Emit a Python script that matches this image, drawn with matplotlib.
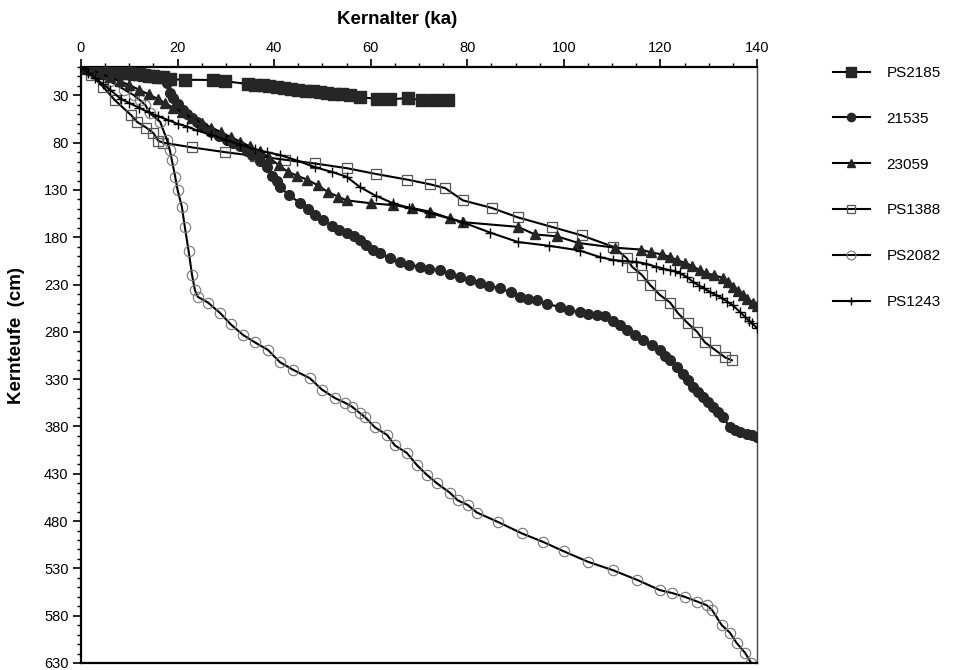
import matplotlib
matplotlib.use('Agg')
import matplotlib.pyplot as plt
from matplotlib.ticker import MultipleLocator, FixedLocator

plt.rcParams['font.family'] = ['Liberation Sans', 'DejaVu Sans']

# ---------------- data (age in ka, depth in cm) ----------------
ps2185_age = [0, 1, 2, 3, 4, 5, 6, 7, 8, 9, 10, 11, 12, 13, 14, 15, 16, 17,
              18.5, 21.5, 27.3, 29.8, 34.6, 36, 37.7,
              39, 40.5, 42, 43.5, 45, 46.5, 48, 49.5, 51, 52.5, 54, 55.7,
              57.8, 61.3, 64, 67.7, 70.6, 73.3, 76]
ps2185_depth = [0, 0.7, 1.3, 2, 2.6, 3.3, 3.9, 4.6, 5.2, 5.9, 6.5, 7.2, 7.8, 8.5, 9.1, 9.8, 10.4, 11,
                13, 13.5, 13.7, 15, 18, 18.5, 19,
                20, 21, 22, 23, 24, 25, 25.5, 26.5, 27.5, 28.5, 29, 29.6,
                32, 33.5, 34, 33, 35, 35, 35]

s21535_age = [0, 1, 2, 3, 4, 5, 6, 7, 8, 9, 10, 11, 12, 13, 14, 15, 16, 17,
              17.8, 18.4, 19, 20, 21.1, 22, 23, 24, 25.3, 27,
              28.5, 30.2, 31.5, 33, 34.4, 35.5, 37, 38.5, 39.5, 40.5,
              41.2, 43, 45.4, 47, 48.5, 50.1, 52, 53.5, 55, 56.5,
              57.8, 59, 60.5, 62, 64, 66, 68, 70.2, 72, 74.3,
              76.5, 78.5, 80.5, 82.6, 84.5, 86.8, 89, 90.9, 92.5, 94.4,
              96.5, 99.2, 101, 103.3, 105, 106.9, 108.5,
              110.2, 111.7, 113.1, 114.7, 116.4, 118.2, 119.9, 121, 122, 123.4,
              124.7, 125.7, 126.7, 127.8, 128.8, 129.9, 130.9, 132, 133, 134.4,
              135.5, 136.5, 138, 139, 140]
s21535_depth = [0, 0.5, 1, 1.5, 2, 2.5, 3, 3.5, 4, 5, 5.5, 6, 7, 7.5, 8, 9, 10, 12,
                17, 27, 33, 39, 45, 50, 54, 58, 63, 69,
                73, 77, 80, 84, 89, 93, 99, 106, 115, 120,
                127, 135, 144, 150, 156, 162, 168, 172, 175, 179,
                183, 188, 193, 197, 202, 206, 209, 211, 213, 215,
                219, 222, 225, 228, 231, 234, 238, 243, 245, 246,
                250, 254, 257, 259, 261, 262, 263,
                268, 273, 278, 283, 289, 294, 299, 305, 310, 317,
                324, 331, 338, 344, 349, 354, 359, 365, 370, 381,
                384, 386, 388, 389, 391]

s23059_age = [0, 2, 4, 6, 8, 10, 12, 14, 16,
              17.4, 19, 21, 23, 25, 27, 29, 31, 33, 35, 37, 39, 41,
              42.9, 44.8, 46.8, 49, 51.1, 53.2, 55,
              60, 64.6, 68.5, 72.3, 76.4, 79.1,
              90.5, 94, 98.6, 103, 110.6,
              116, 118, 120.3, 122, 123.4, 125, 126.5, 128.2, 129.5, 131, 133, 134, 135, 136, 137, 138, 139.2, 140]
s23059_depth = [0, 3, 7, 11, 15, 19, 24, 29, 34,
                38, 43, 48, 54, 59, 64, 69, 74, 79, 84, 89, 96, 104,
                111, 115, 119, 125, 132, 137, 141,
                144, 146, 149, 153, 160, 164,
                169, 177, 179, 186, 191,
                193, 196, 198, 201, 204, 207, 210, 215, 218, 220, 223, 227, 233, 237, 241, 245, 249, 253]

ps1388_age = [0, 2, 4.6, 7, 10.4, 11.6, 13.5, 15, 16, 17,
              23, 29.8, 36, 42.2, 48.5, 55.1, 61, 67.5, 72.3, 75.4,
              79.1, 85.1, 90.5, 97.5, 103.7, 110.2, 113, 114.1, 116.2, 117.8,
              119.9, 122, 123.6, 125.7, 127.6, 129.2, 131.3, 133.4, 134.8]
ps1388_depth = [0, 8, 21, 35, 51, 58, 64, 70, 78, 80,
                85, 90, 94, 98, 102, 107, 113, 119, 124, 128,
                141, 149, 159, 169, 178, 190, 202, 211, 220, 230,
                241, 249, 260, 271, 280, 291, 299, 307, 310]

ps2082_age = [0, 3, 6, 9, 11, 12.2, 13.3, 14.3, 16.4, 17.8,
              18.4, 18.8, 19.5, 20, 20.9, 21.5, 22.3, 23, 23.6, 24.2,
              26.3, 28.8, 31, 33.5, 36, 38.7, 41.2, 43.9, 47.4, 49.9,
              52.6, 54.7, 56.1, 57.8, 58.8, 60.9, 63.4, 65, 67.5, 69.6,
              71.6, 73.7, 76.4, 78, 80.1, 82, 86.4, 91.3, 95.7, 100,
              105, 110.2, 115.1, 119.9, 122.4, 125, 127.6, 129.6, 130.7, 132.7,
              134.4, 135.8, 137.5, 138.8]
ps2082_depth = [0, 7, 15, 24, 30, 35, 40, 49, 58, 77,
                88, 98, 116, 130, 148, 169, 195, 220, 236, 243,
                249, 260, 272, 283, 291, 299, 312, 320, 329, 341,
                350, 355, 359, 366, 370, 381, 389, 400, 408, 421,
                431, 440, 450, 458, 463, 471, 481, 493, 502, 512,
                523, 532, 542, 553, 556, 560, 565, 569, 574, 590,
                598, 609, 619, 630]

ps1243_age = [0, 1.5, 3, 4.5, 6, 8.3, 10, 12, 14, 16,
              18, 20, 22, 24, 27, 30, 33, 36, 38.5, 41.2,
              44.8, 48.5, 52, 55, 57.8, 61, 64.6, 68, 72, 79,
              84.7, 90.5, 97, 103.3, 107.5, 110.2, 112, 115, 117, 119,
              120.5, 122, 123, 124, 125.5, 126.7, 128, 129, 130.3, 131.5,
              132.7, 133.8, 135, 136.5, 137.5, 138.3, 139, 140]
ps1243_depth = [0, 6, 12, 18, 24, 34, 38, 43, 48, 52,
                56, 60, 63, 67, 72, 77, 82, 87, 90, 93,
                99, 106, 111, 116, 127, 136, 144, 149, 154, 164,
                175, 185, 189, 194, 201, 204, 205, 206, 208, 211,
                213, 215, 216, 218, 222, 227, 231, 234, 238, 241,
                244, 248, 252, 259, 264, 268, 271, 276]

x_ticks = [0, 20, 40, 60, 80, 100, 120, 140]
y_ticks = [30, 80, 130, 180, 230, 280, 330, 380, 430, 480, 530, 580, 630]

# ---------------- figure ----------------
W, H = 954, 670
fig = plt.figure(figsize=(W / 100, H / 100), dpi=100)
ax = fig.add_axes([81 / W, 1 - 663 / H, (757 - 81) / W, (663 - 67) / H])

dark = '#262626'
ax.plot(ps2185_age, ps2185_depth, color='black', lw=1.5, marker='s', ms=8,
        mfc=dark, mec=dark, label='PS2185', zorder=3)
ax.plot(s21535_age, s21535_depth, color='black', lw=1.5, marker='o', ms=7,
        mfc=dark, mec=dark, label='21535', zorder=3)
ax.plot(s23059_age, s23059_depth, color='black', lw=1.5, marker='^', ms=7,
        mfc=dark, mec=dark, label='23059', zorder=3)
ax.plot(ps1388_age, ps1388_depth, color='black', lw=1.5, marker='s', ms=7.5,
        mfc='none', mec='#555555', mew=0.9, label='PS1388', zorder=2)
ax.plot(ps2082_age, ps2082_depth, color='black', lw=1.5, marker='o', ms=7.5,
        mfc='none', mec='#777777', mew=0.8, label='PS2082', zorder=2)
ax.plot(ps1243_age, ps1243_depth, color='black', lw=1.5, marker='+', ms=7,
        mec='black', mew=1.0, label='PS1243', zorder=3)

ax.set_xlim(0, 140)
ax.set_ylim(630, 0)

ax.xaxis.tick_top()
ax.xaxis.set_major_locator(FixedLocator(x_ticks))
ax.xaxis.set_minor_locator(MultipleLocator(5))
ax.yaxis.set_major_locator(FixedLocator(y_ticks))
ax.yaxis.set_minor_locator(MultipleLocator(10))
ax.tick_params(axis='both', which='major', direction='out', length=6, width=1.2,
               labelsize=10.5, pad=3)
ax.tick_params(axis='both', which='minor', direction='out', length=3, width=1.0)
ax.tick_params(axis='x', which='both', top=True, bottom=False)
ax.tick_params(axis='y', which='both', left=True, right=False)

for side in ['top', 'left', 'bottom']:
    ax.spines[side].set_linewidth(1.6)
ax.spines['right'].set_linewidth(1.0)
ax.spines['right'].set_color('#444444')

fig.text(397 / W, 1 - 20 / H, 'Kernalter (ka)', fontsize=13.5, fontweight='bold',
         ha='center', va='center')
fig.text(17 / W, 1 - 335 / H, 'Kernteufe  (cm)', fontsize=13.5, fontweight='bold',
         rotation=90, ha='center', va='center')

leg = ax.legend(loc='upper left', bbox_to_anchor=(833 / W, 1 - 66 / H),
                bbox_transform=fig.transFigure, frameon=False, fontsize=11,
                handlelength=2.4, handletextpad=1.1, labelspacing=2.08,
                borderpad=0, borderaxespad=0, markerscale=0.85)

fig.savefig('out.png', dpi=100)
